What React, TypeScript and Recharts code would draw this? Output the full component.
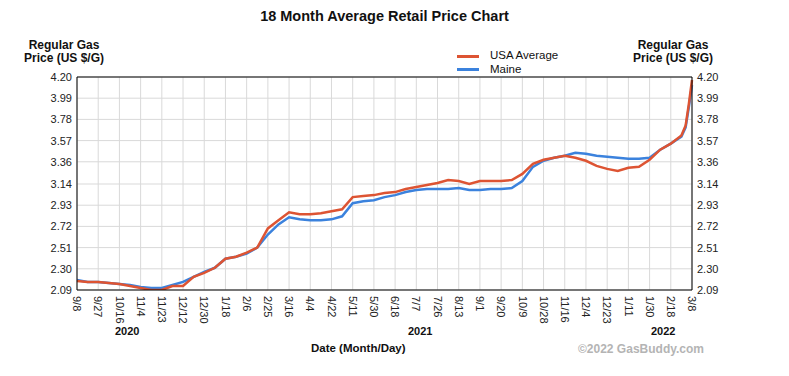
import { LineChart, Line, XAxis, YAxis, CartesianGrid, ReferenceLine } from "recharts";

// tick labels under the x axis, one every ~19 days from 9/8/2020 to 3/8/2022
const dateLabels = [
	"9/8", "9/27", "10/16", "11/4", "11/23", "12/12", "12/30", "1/18", "2/6", "2/25",
	"3/16", "4/4", "4/22", "5/11", "5/30", "6/18", "7/7", "7/26", "8/13", "9/1",
	"9/20", "10/9", "10/28", "11/16", "12/4", "12/23", "1/11", "1/30", "2/18", "3/8",
];

// sample positions in half-label steps (extra ones near the end for the spike)
const steps = [
	0, 1, 2, 3, 4, 5, 6, 7, 8, 9, 10, 11, 12, 13, 14, 15, 16, 17, 18, 19,
	20, 21, 22, 23, 24, 25, 26, 27, 28, 29, 30, 31, 32, 33, 34, 35, 36, 37, 38, 39,
	40, 41, 42, 43, 44, 45, 46, 47, 48, 49, 50, 51, 52, 53, 54, 55, 56, 57, 57.4, 57.7, 58,
];

const usaAverage = [
	2.18, 2.17, 2.17, 2.16, 2.15, 2.13, 2.11, 2.09, 2.09, 2.13, 2.13, 2.22, 2.26, 2.31, 2.4, 2.42, 2.46, 2.51, 2.7, 2.78,
	2.86, 2.84, 2.84, 2.85, 2.87, 2.89, 3.01, 3.02, 3.03, 3.05, 3.06, 3.09, 3.11, 3.13, 3.15, 3.18, 3.17, 3.14, 3.17, 3.17,
	3.17, 3.18, 3.24, 3.34, 3.38, 3.4, 3.42, 3.4, 3.37, 3.32, 3.29, 3.27, 3.3, 3.31, 3.38, 3.48, 3.54, 3.62, 3.72, 3.93, 4.17,
];

const maine = [
	2.19, 2.17, 2.17, 2.16, 2.15, 2.14, 2.12, 2.11, 2.11, 2.14, 2.17, 2.22, 2.27, 2.31, 2.4, 2.42, 2.45, 2.51, 2.64, 2.74,
	2.81, 2.79, 2.78, 2.78, 2.79, 2.82, 2.95, 2.97, 2.98, 3.01, 3.03, 3.06, 3.08, 3.09, 3.09, 3.09, 3.1, 3.08, 3.08, 3.09,
	3.09, 3.1, 3.17, 3.31, 3.37, 3.4, 3.42, 3.45, 3.44, 3.42, 3.41, 3.4, 3.39, 3.39, 3.4, 3.48, 3.54, 3.61, 3.7, 3.9, 4.12,
];

const priceTicks = [2.09, 2.3, 2.51, 2.72, 2.93, 3.14, 3.36, 3.57, 3.78, 3.99, 4.2];

const data = steps.map((pos, i) => ({ pos, usa: usaAverage[i], maine: maine[i] }));
const dateTicks = dateLabels.map((_, i) => i * 2);

const DateTick = ({ x, payload }: any) => (
	<text
		x={x}
		y={296}
		transform={`rotate(90, ${x}, 296)`}
		dy="0.35em"
		textAnchor="start"
		fontSize={11}
		fill="#222"
	>
		{dateLabels[Math.round(payload.value / 2)]}
	</text>
);

const abs = (left: number, top: number, extra: any = {}) => ({
	position: "absolute" as const,
	left,
	top,
	whiteSpace: "nowrap" as const,
	...extra,
});

const App = () => {
	return (
		<div
			style={{
				position: "absolute",
				left: 0,
				top: 0,
				width: 789,
				height: 376,
				background: "#fff",
				fontFamily: "'Liberation Sans', Arial, sans-serif",
				color: "#111",
			}}
		>
			<LineChart
				width={789}
				height={376}
				data={data}
				margin={{ top: 77, right: 47, left: 27, bottom: 46 }}
			>
				<CartesianGrid yAxisId="left" stroke="#d9d9d9" />
				<XAxis
					dataKey="pos"
					type="number"
					domain={[0, 58]}
					ticks={dateTicks}
					interval={0}
					height={40}
					tickLine={false}
					axisLine={{ stroke: "#000" }}
					tick={<DateTick />}
				/>
				<YAxis
					yAxisId="left"
					width={50}
					domain={[2.09, 4.2]}
					allowDataOverflow
					ticks={priceTicks}
					interval={0}
					tickFormatter={(v: number) => v.toFixed(2)}
					tickLine={false}
					tickSize={0}
					tickMargin={5}
					axisLine={{ stroke: "#000" }}
					tick={{ fontSize: 11, fill: "#222" }}
				/>
				<YAxis
					yAxisId="right"
					orientation="right"
					width={50}
					domain={[2.09, 4.2]}
					allowDataOverflow
					ticks={priceTicks}
					interval={0}
					tickFormatter={(v: number) => v.toFixed(2)}
					tickLine={false}
					tickSize={0}
					tickMargin={5}
					axisLine={{ stroke: "#000" }}
					tick={{ fontSize: 11, fill: "#222" }}
				/>
				<ReferenceLine yAxisId="left" y={4.2} stroke="#000" />
				<Line
					yAxisId="right"
					dataKey="maine"
					stroke="#3b82dd"
					strokeWidth={2.5}
					dot={false}
					isAnimationActive={false}
				/>
				<Line
					yAxisId="left"
					dataKey="usa"
					stroke="#dd5433"
					strokeWidth={2.5}
					dot={false}
					isAnimationActive={false}
				/>
			</LineChart>

			<div style={abs(0, 8, { width: 769, textAlign: "center", fontSize: 14.5, fontWeight: "bold" })}>
				18 Month Average Retail Price Chart
			</div>

			<div style={abs(14, 39, { width: 100, textAlign: "center", fontSize: 12, fontWeight: "bold", lineHeight: "13px" })}>
				Regular Gas
				<br />
				Price (US $/G)
			</div>
			<div style={abs(623, 39, { width: 100, textAlign: "center", fontSize: 12, fontWeight: "bold", lineHeight: "13px" })}>
				Regular Gas
				<br />
				Price (US $/G)
			</div>

			<div style={abs(457, 55, { width: 22, height: 3, background: "#dd5433" })} />
			<div style={abs(490, 49, { fontSize: 11.5, lineHeight: "13px" })}>USA Average</div>
			<div style={abs(457, 68, { width: 22, height: 3, background: "#3b82dd" })} />
			<div style={abs(490, 63, { fontSize: 11.5, lineHeight: "13px" })}>Maine</div>

			<div style={abs(115, 325, { fontSize: 11, fontWeight: "bold" })}>2020</div>
			<div style={abs(408, 325, { fontSize: 11, fontWeight: "bold" })}>2021</div>
			<div style={abs(651, 325, { fontSize: 11, fontWeight: "bold" })}>2022</div>

			<div style={abs(311, 342, { fontSize: 11.5, fontWeight: "bold" })}>Date (Month/Day)</div>
			<div style={abs(578, 342, { fontSize: 12, fontWeight: "bold", color: "#b4b4b4" })}>
				©2022 GasBuddy.com
			</div>
		</div>
	);
};

export default App;
